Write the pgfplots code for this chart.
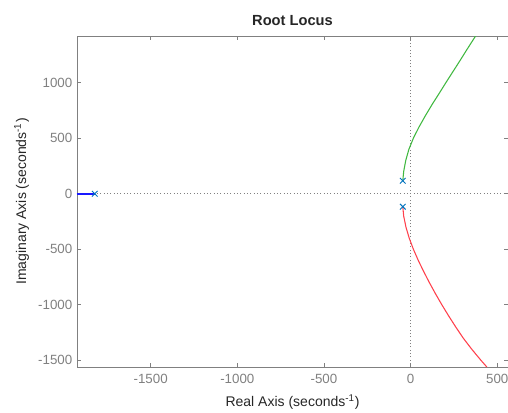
\documentclass[border=0pt]{standalone}
\usepackage{pgfplots}
\pgfplotsset{compat=1.18}
\usepackage{fontspec}
\setmainfont{Liberation Sans}
\usetikzlibrary{calc}
\definecolor{mblue}{rgb}{0,0.447,0.741}
\definecolor{lblue}{rgb}{0.1,0.1,1}
\definecolor{lgreen}{rgb}{0.25,0.72,0.25}
\definecolor{lred}{rgb}{1,0.25,0.3}
\definecolor{axgray}{gray}{0.5}
\begin{document}
\begin{tikzpicture}[x=1pt,y=1pt]
\begin{axis}[
  name=ax,
  scale only axis,
  width=323.25pt, height=248.25pt,
  xmin=-1925, xmax=562,
  ymin=-1562, ymax=1422,
  xtick={-1500,-1000,-500,0,500},
  ytick={-1500,-1000,-500,0,500,1000},
  tick align=inside,
  major tick length=3pt,
  axis line style={axgray, line width=0.6pt},
  tick style={axgray, line width=0.5pt},
  ticklabel style={font=\fontsize{10}{12}\selectfont, text=axgray},
  xticklabel style={yshift=-2pt},
  /pgf/number format/assume math mode=true,
  /pgf/number format/1000 sep={},
  title={\textbf{Root Locus}},
  title style={font=\fontsize{11}{13}\selectfont, text=black!85, yshift=-2pt},
  xlabel={Real Axis (seconds\textsuperscript{-1})},
  ylabel={Imaginary Axis (seconds\textsuperscript{-1})},
  label style={font=\fontsize{10.5}{12}\selectfont, text=black!85},
  xlabel style={yshift=-1pt},
  ylabel style={yshift=0pt},
  clip=true,
]
\addplot[gray, dotted, line width=0.5pt, forget plot] coordinates {(-1925,0) (562,0)};
\addplot[gray, dotted, line width=0.5pt, forget plot] coordinates {(0,-1562) (0,1422)};
\addplot[lblue, line width=1.3pt] coordinates {(-1925,0) (-1823,0)};
\addplot[lgreen, line width=0.8pt] coordinates {
(-45,117) (-40,200) (-28,300) (-10,400) (17,505) (48,600) (84,700) (127,812)
(163,900) (203,1000) (248,1110) (285,1200) (325,1300) (375,1422)};
\addplot[lred, line width=0.8pt] coordinates {
(-45,-117) (-40,-200) (-27,-300) (-8,-400) (16,-500) (44,-600) (75,-700) (108,-800)
(143,-900) (180,-1000) (219,-1100) (260,-1200) (303,-1300) (352,-1400) (405,-1500) (440,-1562)};
\addplot[only marks, mark=x, mark size=3pt, mblue, line width=0.7pt] coordinates {
(-1823,0) (-45,117) (-45,-117)};
\end{axis}
\pgfresetboundingbox
\path ($(ax.south west)+(-57.75pt,-33.75pt)$) rectangle ($(ax.north east)+(0pt,27pt)$);
\end{tikzpicture}
\end{document}
